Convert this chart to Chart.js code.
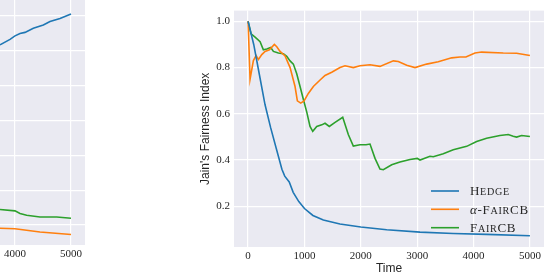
<!DOCTYPE html>
<html lang="en">
<head>
  <meta charset="UTF-8">
  <title>Jain's Fairness Index over time</title>
  <style>
    * { margin: 0; padding: 0; }
    body { width: 544px; height: 274px; background: #fff; position: relative; overflow: hidden; }
    #leftChart { position: absolute; left: 0; top: 0; }
    #jainChart { position: absolute; left: 180px; top: 0; }
  </style>
</head>
<body>
  <canvas id="leftChart" width="85" height="274"></canvas>
  <canvas id="jainChart" width="364" height="274"></canvas>

  <script src="https://cdn.jsdelivr.net/npm/chart.js"></script>
  <script>
    // right panel: Jain's fairness index
    const seriesLabels = ['Hedge', 'α-FairCB', 'FairCB'];
    const seriesColors = ['#1f77b4', '#ff7f0e', '#2ca02c'];
    const timeTicks = [0, 1000, 2000, 3000, 4000, 5000];
    const jainTicks = [0.2, 0.4, 0.6, 0.8, 1.0];

    const hedgeTime = [0, 100, 200, 300, 400, 500, 600, 650, 730, 800, 900, 1000, 1150, 1335, 1630, 2000, 2460, 3050, 3640, 4230, 5000];
    const hedgeJain = [1.0, 0.90, 0.77, 0.64, 0.54, 0.45, 0.36, 0.33, 0.305, 0.26, 0.22, 0.19, 0.16, 0.14, 0.123, 0.11, 0.098, 0.088, 0.082, 0.078, 0.072];

    const alphaTime = [0, 35, 94, 142, 183, 243, 301, 378, 466, 509, 567, 656, 745, 833, 874, 934, 993, 1069, 1158, 1277, 1365, 1484, 1631, 1720, 1867, 1986, 2163, 2340, 2577, 2665, 2814, 2961, 3168, 3374, 3612, 3759, 3865, 4025, 4144, 4527, 4764, 5000];
    const alphaJain = [1.0, 0.75, 0.83, 0.852, 0.835, 0.856, 0.87, 0.877, 0.90, 0.89, 0.87, 0.85, 0.80, 0.718, 0.656, 0.646, 0.656, 0.688, 0.718, 0.746, 0.766, 0.78, 0.80, 0.808, 0.80, 0.808, 0.812, 0.805, 0.829, 0.826, 0.81, 0.80, 0.815, 0.825, 0.842, 0.846, 0.846, 0.863, 0.867, 0.863, 0.862, 0.852];

    const fairTime = [0, 53, 124, 213, 271, 332, 402, 449, 537, 626, 686, 745, 803, 863, 922, 980, 1041, 1099, 1147, 1218, 1307, 1365, 1441, 1543, 1679, 1778, 1867, 1986, 2092, 2163, 2252, 2340, 2399, 2548, 2695, 2872, 3002, 3050, 3227, 3285, 3463, 3640, 3878, 4055, 4232, 4468, 4615, 4704, 4764, 4853, 5000];
    const fairJain = [1.0, 0.946, 0.932, 0.912, 0.877, 0.88, 0.887, 0.87, 0.863, 0.86, 0.849, 0.829, 0.815, 0.773, 0.718, 0.663, 0.607, 0.545, 0.524, 0.545, 0.552, 0.559, 0.545, 0.563, 0.585, 0.51, 0.46, 0.466, 0.466, 0.469, 0.407, 0.361, 0.358, 0.379, 0.391, 0.402, 0.407, 0.40, 0.416, 0.414, 0.427, 0.444, 0.459, 0.48, 0.494, 0.506, 0.51, 0.503, 0.499, 0.506, 0.502];

    // left panel: only its right end is in the frame (y labels are cut off)
    const leftTimeTicks = [4000, 5000];
    const leftGridTicks = [1, 2, 3, 4, 5, 6, 7];
    const leftHedgeTime = [3732, 3911, 4000, 4089, 4179, 4327, 4506, 4625, 4804, 5000];
    const leftHedgeVal  = [6.17, 6.33, 6.43, 6.50, 6.53, 6.65, 6.74, 6.84, 6.93, 7.06];
    const leftFairTime  = [3732, 4000, 4089, 4208, 4446, 4745, 5000];
    const leftFairVal   = [1.445, 1.405, 1.33, 1.28, 1.23, 1.23, 1.195];
    const leftAlphaTime = [3732, 4000, 4446, 5000];
    const leftAlphaVal  = [0.908, 0.89, 0.80, 0.727];

    const tickFont = { family: "'Liberation Serif', serif", size: 11 };
    const labelFont = { family: "'Liberation Sans', sans-serif", size: 12, lineHeight: 1.2 };
    const textColor = '#262626';

    const toPoints = (xs, ys) => xs.map((x, i) => ({ x: x, y: ys[i] }));
    const lineSet = (label, color, xs, ys) => ({
      label, data: toPoints(xs, ys), borderColor: color, borderWidth: 1.6,
      pointRadius: 0, fill: false, tension: 0
    });

    const plotBg = {
      id: 'plotBg',
      beforeDraw(chart) {
        const { ctx, chartArea: a } = chart;
        ctx.save();
        ctx.fillStyle = '#eaeaf2';
        ctx.fillRect(a.left, a.top, a.right - a.left, a.bottom - a.top);
        ctx.restore();
      }
    };

    // legend with latex-like small caps, no frame
    function drawSmallCaps(ctx, text, x, y, size) {
      for (const ch of text) {
        let s = size, f = "'Liberation Serif', serif", st = '';
        let c = ch;
        if (ch === 'α') { st = 'italic '; }
        else if (ch !== ch.toUpperCase()) { c = ch.toUpperCase(); s = size * 0.78; }
        ctx.font = st + s + 'px ' + f;
        ctx.fillText(c, x, y);
        x += ctx.measureText(c).width + 0.7;
      }
    }

    const capsLegend = {
      id: 'capsLegend',
      afterDatasetsDraw(chart) {
        const { ctx, chartArea: a } = chart;
        const rows = [56, 37.7, 19.3];
        ctx.save();
        ctx.fillStyle = textColor;
        ctx.textBaseline = 'alphabetic';
        chart.data.datasets.forEach((ds, i) => {
          const y = a.bottom - rows[i];
          ctx.strokeStyle = ds.borderColor;
          ctx.lineWidth = 1.6;
          ctx.beginPath();
          ctx.moveTo(a.right - 113, y);
          ctx.lineTo(a.right - 85, y);
          ctx.stroke();
          drawSmallCaps(ctx, ds.label, a.right - 74, y + 4.3, 13);
        });
        ctx.restore();
      }
    };

    new Chart(document.getElementById('jainChart'), {
      type: 'line',
      data: {
        datasets: [
          lineSet(seriesLabels[0], seriesColors[0], hedgeTime, hedgeJain),
          lineSet(seriesLabels[1], seriesColors[1], alphaTime, alphaJain),
          lineSet(seriesLabels[2], seriesColors[2], fairTime, fairJain)
        ]
      },
      options: {
        responsive: false,
        animation: false,
        events: [],
        layout: { padding: 0 },
        plugins: { legend: { display: false }, tooltip: { enabled: false } },
        scales: {
          x: {
            type: 'linear', min: -250, max: 5250,
            afterBuildTicks: s => { s.ticks = timeTicks.map(v => ({ value: v })); },
            afterFit: s => { s.height = 27; },
            grid: { color: '#ffffff', lineWidth: 1.2, drawTicks: false },
            border: { display: false },
            ticks: { padding: 3, color: textColor, font: tickFont, maxRotation: 0, callback: v => String(v) },
            title: { display: true, text: 'Time', color: textColor, font: { family: labelFont.family, size: 12, lineHeight: 1 }, padding: { top: 0, bottom: -1 } }
          },
          y: {
            type: 'linear', min: 0.0235, max: 1.0465,
            afterBuildTicks: s => { s.ticks = jainTicks.map(v => ({ value: v })); },
            afterFit: s => { s.width = 54; },
            grid: { color: '#ffffff', lineWidth: 1.2, drawTicks: false },
            border: { display: false },
            ticks: { padding: 4, color: textColor, font: tickFont, callback: v => v.toFixed(1) },
            title: { display: true, text: "Jain's Fairness Index", color: textColor, font: labelFont, padding: { top: 18, bottom: 0 } }
          }
        }
      },
      plugins: [plotBg, capsLegend]
    });

    new Chart(document.getElementById('leftChart'), {
      type: 'line',
      data: {
        datasets: [
          lineSet(seriesLabels[0], seriesColors[0], leftHedgeTime, leftHedgeVal),
          lineSet(seriesLabels[1], seriesColors[1], leftAlphaTime, leftAlphaVal),
          lineSet(seriesLabels[2], seriesColors[2], leftFairTime, leftFairVal)
        ]
      },
      options: {
        responsive: false,
        animation: false,
        events: [],
        layout: { padding: 0 },
        plugins: { legend: { display: false }, tooltip: { enabled: false } },
        scales: {
          x: {
            type: 'linear', min: 3732, max: 5250,
            afterBuildTicks: s => { s.ticks = leftTimeTicks.map(v => ({ value: v })); },
            afterFit: s => { s.height = 29; },
            grid: { color: '#ffffff', lineWidth: 1.2, drawTicks: false },
            border: { display: false },
            ticks: { padding: 3, color: textColor, font: tickFont, maxRotation: 0, callback: v => String(v) }
          },
          y: {
            type: 'linear', min: 0.425, max: 7.46,
            afterBuildTicks: s => { s.ticks = leftGridTicks.map(v => ({ value: v })); },
            afterFit: s => { s.width = 0; },
            grid: { color: '#ffffff', lineWidth: 1.2, drawTicks: false },
            border: { display: false },
            ticks: { display: false }
          }
        }
      },
      plugins: [plotBg]
    });
  </script>
</body>
</html>
